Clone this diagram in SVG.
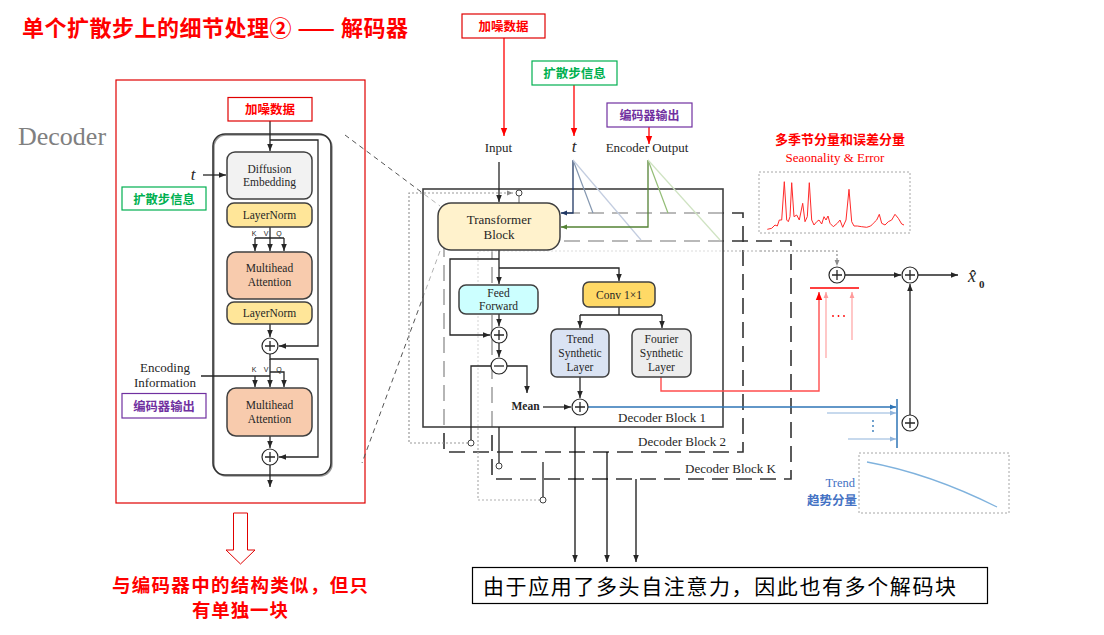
<svg xmlns="http://www.w3.org/2000/svg" width="1104" height="635" viewBox="0 0 1104 635">
  <defs>
    <marker id="ah" viewBox="0 0 10 10" refX="10" refY="5" markerWidth="7" markerHeight="7" markerUnits="userSpaceOnUse" orient="auto"><path d="M0,1 L10,5 L0,9 z" fill="#262626"/></marker>
    <marker id="ahRed" viewBox="0 0 10 10" refX="10" refY="5" markerWidth="8" markerHeight="8" markerUnits="userSpaceOnUse" orient="auto"><path d="M0,1 L10,5 L0,9 z" fill="#ff0000"/></marker>
    <marker id="ahLRed" viewBox="0 0 10 10" refX="10" refY="5" markerWidth="6" markerHeight="6" markerUnits="userSpaceOnUse" orient="auto"><path d="M0,1 L10,5 L0,9 z" fill="#ff9a9a"/></marker>
    <marker id="ahBlue" viewBox="0 0 10 10" refX="10" refY="5" markerWidth="6" markerHeight="6" markerUnits="userSpaceOnUse" orient="auto"><path d="M0,1 L10,5 L0,9 z" fill="#2e75b6"/></marker>
    <marker id="ahLBlue" viewBox="0 0 10 10" refX="10" refY="5" markerWidth="6" markerHeight="6" markerUnits="userSpaceOnUse" orient="auto"><path d="M0,1 L10,5 L0,9 z" fill="#8fb4dc"/></marker>
    <marker id="ahNavy" viewBox="0 0 10 10" refX="10" refY="5" markerWidth="6" markerHeight="6" markerUnits="userSpaceOnUse" orient="auto"><path d="M0,1 L10,5 L0,9 z" fill="#203864"/></marker>
    <marker id="ahGreen" viewBox="0 0 10 10" refX="10" refY="5" markerWidth="6" markerHeight="6" markerUnits="userSpaceOnUse" orient="auto"><path d="M0,1 L10,5 L0,9 z" fill="#548235"/></marker>
    <marker id="ahGray" viewBox="0 0 10 10" refX="10" refY="5" markerWidth="6" markerHeight="6" markerUnits="userSpaceOnUse" orient="auto"><path d="M0,1 L10,5 L0,9 z" fill="#8c8c8c"/></marker>
    <style>
      .ser { font-family: "Liberation Serif", "Times New Roman", serif; fill: #262626; }
      .cjk { font-family: "Noto Sans CJK SC", "Liberation Sans", sans-serif; font-weight: bold; }
      .mid { text-anchor: middle; }
      .box { stroke: #404040; stroke-width: 1.5; }
      .ln { fill: none; stroke: #262626; stroke-width: 1.3; }
      .arr { marker-end: url(#ah); }
      .circ { fill: #fff; stroke: #262626; stroke-width: 1.2; }
      .dash { fill: none; stroke: #333; stroke-width: 1.6; stroke-dasharray: 16 8; }
      .dot { fill: none; stroke-width: 1.2; stroke-dasharray: 2 2; }
      .tag { fill: #fff; stroke-width: 1.2; }
      .kvq { font-family: "Liberation Sans", Arial, sans-serif; font-size: 7px; fill: #262626; text-anchor: middle; }
      .pin { fill: #fff; stroke: #404040; stroke-width: 1; }
    </style>
  </defs>

  <rect width="1104" height="635" fill="#ffffff"/>

  <!-- heading -->
  <text id="title" x="22" y="36" class="cjk" font-size="22" fill="#ff0000" textLength="386">单个扩散步上的细节处理② —— 解码器</text>

  <!-- ===== left panel: single decoder layer ===== -->
  <g id="left-panel">
    <rect x="116" y="80" width="249" height="423" fill="none" stroke="#e00000" stroke-width="1.2"/>
    <text x="18" y="145" font-family="Liberation Serif, serif" font-size="26" fill="#808080">Decoder</text>
  </g>

  <g id="left-decoder-frame">
    <rect x="214" y="135" width="118" height="341" rx="12" fill="none" stroke="#9a9a9a" stroke-width="1.5"/>
    <rect x="213" y="134" width="118" height="341" rx="12" fill="none" stroke="#333" stroke-width="1.6"/>
  </g>

  <g id="left-connectors">
    <path class="ln arr" d="M270,121 V151"/>
    <path class="ln arr" d="M270,140 H318 V346 H279"/>
    <path class="ln arr" d="M203,175 H226"/>
    <path class="ln" d="M270,227 V238 M255,238 H284"/>
    <path class="ln arr" d="M255,238 V251"/>
    <path class="ln arr" d="M270,238 V251"/>
    <path class="ln arr" d="M284,238 V251"/>
    <path class="ln arr" d="M270,324 V337"/>
    <path class="ln arr" d="M270,354 V359 H318 V457 H279"/>
    <path class="ln arr" d="M270,359 V387"/>
    <path class="ln arr" d="M270,372 H284 V387"/>
    <path class="ln" d="M201,376 H270"/>
    <path class="ln arr" d="M255,376 V387"/>
    <path class="ln arr" d="M270,436 V448"/>
    <path class="ln arr" d="M270,465 V487"/>
  </g>

  <g id="left-noisy-tag">
    <rect x="228" y="97.5" width="84" height="23.5" class="tag" stroke="#e00000"/>
    <text x="270" y="114" class="cjk mid" font-size="12.5" fill="#ff0000">加噪数据</text>
  </g>
  <g id="left-diffusion-embedding">
    <rect x="227" y="152" width="85" height="47" rx="8" class="box" fill="#f2f2f2"/>
    <text x="269.5" y="173" class="ser mid" font-size="11.5">Diffusion</text>
    <text x="269.5" y="186" class="ser mid" font-size="11.5">Embedding</text>
  </g>
  <g id="left-t">
    <text x="193" y="180" class="ser mid" font-size="17" font-style="italic">t</text>
  </g>
  <g id="left-step-tag">
    <rect x="122" y="187" width="84" height="23" class="tag" stroke="#00b050"/>
    <text x="164" y="203.5" class="cjk mid" font-size="12.3" fill="#00b050">扩散步信息</text>
  </g>
  <g id="left-layernorm-1">
    <rect x="227" y="203" width="85" height="24" rx="7" class="box" fill="#ffe699"/>
    <text x="269.5" y="219" class="ser mid" font-size="11.5">LayerNorm</text>
  </g>
  <g id="left-kvq-1">
    <text x="254" y="236" class="kvq">K</text>
    <text x="266" y="236" class="kvq">V</text>
    <text x="279" y="236" class="kvq">Q</text>
  </g>
  <g id="left-attention-1">
    <rect x="227" y="252" width="85" height="47" rx="9" class="box" fill="#f8cbad"/>
    <text x="269.5" y="271.5" class="ser mid" font-size="11.5">Multihead</text>
    <text x="269.5" y="285.5" class="ser mid" font-size="11.5">Attention</text>
  </g>
  <g id="left-layernorm-2">
    <rect x="227" y="302" width="85" height="22" rx="7" class="box" fill="#ffe699"/>
    <text x="269.5" y="317" class="ser mid" font-size="11.5">LayerNorm</text>
  </g>
  <g id="left-add-1">
    <circle cx="270" cy="346" r="8" class="circ"/>
    <path class="ln" d="M265,346 H275 M270,341 V351"/>
  </g>
  <g id="left-encoding-info">
    <text x="165" y="372" class="ser mid" font-size="13">Encoding</text>
    <text x="165" y="387" class="ser mid" font-size="13">Information</text>
  </g>
  <g id="left-kvq-2">
    <text x="254" y="371.5" class="kvq">K</text>
    <text x="266" y="371.5" class="kvq">V</text>
    <text x="279" y="371.5" class="kvq">Q</text>
  </g>
  <g id="left-encoder-tag">
    <rect x="122" y="393.5" width="84" height="24.5" class="tag" stroke="#7030a0"/>
    <text x="164" y="410.5" class="cjk mid" font-size="12.3" fill="#7030a0">编码器输出</text>
  </g>
  <g id="left-attention-2">
    <rect x="227" y="388" width="85" height="48" rx="9" class="box" fill="#f8cbad"/>
    <text x="269.5" y="409" class="ser mid" font-size="11.5">Multihead</text>
    <text x="269.5" y="423" class="ser mid" font-size="11.5">Attention</text>
  </g>
  <g id="left-add-2">
    <circle cx="270" cy="457" r="8" class="circ"/>
    <path class="ln" d="M265,457 H275 M270,452 V462"/>
  </g>

  <!-- hollow arrow and note under the left panel -->
  <g id="left-note">
    <polygon points="233.5,513 247.5,513 247.5,550 255,550 240.5,564 226,550 233.5,550" fill="#fff" stroke="#e00000" stroke-width="1"/>
    <text x="112" y="592" class="cjk" font-size="18.5" fill="#ff0000" textLength="256">与编码器中的结构类似，但只</text>
    <text x="240" y="617" class="cjk mid" font-size="18.5" fill="#ff0000" textLength="96">有单独一块</text>
  </g>

  <!-- zoom guide lines from the left panel -->
  <g id="guide-lines" fill="none" stroke="#555" stroke-width="1" stroke-dasharray="5 4">
    <path d="M345,135 L440,206"/>
    <path d="M440,251 L362,463"/>
  </g>

  <!-- ===== stacked decoder blocks ===== -->
  <g id="decoder-block-k">
    <rect x="492" y="241" width="299" height="238" class="dash"/>
    <text x="685" y="473" class="ser" font-size="13">Decoder Block K</text>
  </g>
  <g id="decoder-block-2">
    <rect x="444" y="213" width="299" height="239" class="dash"/>
    <text x="638" y="446" class="ser" font-size="13">Decoder Block 2</text>
  </g>

  <g id="skip-paths">
    <!-- light dotted skip into the seasonal sum -->
    <path class="dot" stroke="#b0b0b0" d="M540,500 H478 V251 H760"/>
    <path class="dot" stroke="#8c8c8c" d="M760,251 H837 V266" marker-end="url(#ahGray)"/>
  </g>

  <g id="decoder-block-1">
    <rect x="423" y="189" width="300" height="238" fill="#ffffff" fill-opacity="0.55" stroke="#404040" stroke-width="1.6"/>
    <text x="618" y="421.5" class="ser" font-size="13">Decoder Block 1</text>
  </g>

  <g id="connectors">
    <!-- inputs from the top -->
    <path class="ln arr" d="M499,162 V202"/>
    <path fill="none" stroke="#203864" stroke-width="1.3" d="M573,160 V213 H561" marker-end="url(#ahNavy)"/>
    <path fill="none" stroke="#8497b0" stroke-width="1.2" d="M573,160 L593,213"/>
    <path fill="none" stroke="#c3cde0" stroke-width="1.2" d="M573,160 L641,240"/>
    <path fill="none" stroke="#548235" stroke-width="1.3" d="M648,160 V227 H561" marker-end="url(#ahGreen)"/>
    <path fill="none" stroke="#93bd76" stroke-width="1.2" d="M648,160 L668,213"/>
    <path fill="none" stroke="#cfe3c2" stroke-width="1.2" d="M648,160 L720,240"/>

    <!-- dotted hand-over into the next block -->
    <path class="dot" stroke="#999" d="M468,443 H409 V193 H513" marker-end="url(#ahGray)"/>
    <path fill="none" stroke="#666" stroke-width="1" d="M519,196 V203"/>
    <circle cx="519" cy="193" r="3" class="pin"/>

    <!-- inside block 1 -->
    <path class="ln arr" d="M499,250 V284"/>
    <path class="ln arr" d="M499,259 H450 V335 H490"/>
    <path class="ln arr" d="M499,268 H619 V281"/>
    <path class="ln arr" d="M499,314 V326"/>
    <path class="ln arr" d="M499,343 V357"/>
    <path class="ln arr" d="M507,366 H527 V393"/>
    <path class="ln" d="M491,366 H471 V440"/>
    <circle cx="471" cy="443" r="3" class="pin"/>
    <path class="ln" d="M499,427 V463"/>
    <circle cx="499" cy="466" r="3" class="pin"/>
    <path class="ln" d="M543,462 V497"/>
    <circle cx="543" cy="500" r="3" class="pin"/>
    <path class="ln arr" d="M543,407 H571"/>
    <path class="ln" d="M619,307 V315 M580,315 H662"/>
    <path class="ln arr" d="M580,315 V328"/>
    <path class="ln arr" d="M662,315 V328"/>
    <path class="ln arr" d="M580,377 V398"/>

    <!-- trend branch -->
    <path fill="none" stroke="#2e75b6" stroke-width="1.3" d="M588,407 H896" marker-end="url(#ahBlue)"/>
    <path fill="none" stroke="#8fb4dc" stroke-width="1.1" d="M827,413 H896" marker-end="url(#ahLBlue)"/>
    <path fill="none" stroke="#8fb4dc" stroke-width="1.1" d="M848,439 H896" marker-end="url(#ahLBlue)"/>
    <path fill="none" stroke="#2e75b6" stroke-width="1.5" d="M897,399 V448"/>
    <circle cx="873" cy="421" r="0.9" fill="#2e75b6"/>
    <circle cx="873" cy="426" r="0.9" fill="#2e75b6"/>
    <circle cx="873" cy="431" r="0.9" fill="#2e75b6"/>

    <!-- seasonal branch -->
    <path fill="none" stroke="#ff4d4d" stroke-width="1.4" d="M661,377 V391 H819 V292" marker-end="url(#ahRed)"/>
    <path fill="none" stroke="#ff9a9a" stroke-width="1.1" d="M826,358 V292" marker-end="url(#ahLRed)"/>
    <path fill="none" stroke="#ff9a9a" stroke-width="1.1" d="M852,340 V292" marker-end="url(#ahLRed)"/>
    <path fill="none" stroke="#ff0000" stroke-width="1.4" d="M810,288 H859"/>
    <circle cx="833" cy="316" r="0.9" fill="#ff0000"/>
    <circle cx="838.5" cy="316" r="0.9" fill="#ff0000"/>
    <circle cx="844" cy="316" r="0.9" fill="#ff0000"/>

    <!-- output sums -->
    <path class="ln arr" d="M845,275 H901"/>
    <path class="ln arr" d="M918,275 H958"/>
    <path class="ln arr" d="M910,415 V284"/>

    <!-- block outputs to the note -->
    <path fill="none" stroke="#000" stroke-width="1.2" d="M575,427 V562" marker-end="url(#ah)"/>
    <path fill="none" stroke="#000" stroke-width="1.2" d="M607,452 V562" marker-end="url(#ah)"/>
    <path fill="none" stroke="#000" stroke-width="1.2" d="M636,479 V562" marker-end="url(#ah)"/>

    <!-- annotation arrows -->
    <path fill="none" stroke="#ff0000" stroke-width="1.3" d="M504,38 V136" marker-end="url(#ahRed)"/>
    <path fill="none" stroke="#ff0000" stroke-width="1.3" d="M574,85 V136" marker-end="url(#ahRed)"/>
    <path fill="none" stroke="#ff0000" stroke-width="1.3" d="M649,127 V144" marker-end="url(#ahRed)"/>
  </g>

  <!-- ===== nodes of the main diagram ===== -->
  <g id="noisy-tag">
    <rect x="462" y="14" width="83" height="24" class="tag" stroke="#e00000"/>
    <text x="503.5" y="31" class="cjk mid" font-size="12.5" fill="#ff0000">加噪数据</text>
  </g>
  <g id="step-tag">
    <rect x="532" y="61" width="85" height="24" class="tag" stroke="#00b050"/>
    <text x="574.5" y="78" class="cjk mid" font-size="12.5" fill="#00b050">扩散步信息</text>
  </g>
  <g id="encoder-tag">
    <rect x="607" y="103" width="85" height="24" class="tag" stroke="#7030a0"/>
    <text x="649.5" y="120" class="cjk mid" font-size="12" fill="#7030a0">编码器输出</text>
  </g>
  <g id="input-label"><text x="498.5" y="152" class="ser mid" font-size="13">Input</text></g>
  <g id="t-label"><text x="574" y="152" class="ser mid" font-size="17" font-style="italic">t</text></g>
  <g id="encoder-output-label"><text x="647" y="152" class="ser mid" font-size="13">Encoder Output</text></g>

  <g id="transformer-block">
    <rect x="438" y="203" width="122" height="47" rx="13" class="box" fill="#fff2cc"/>
    <text x="499" y="224" class="ser mid" font-size="13">Transformer</text>
    <text x="499" y="239" class="ser mid" font-size="13">Block</text>
  </g>
  <g id="feed-forward">
    <rect x="459" y="285" width="79" height="29" rx="7" class="box" fill="#ccffff"/>
    <text x="498.5" y="297" class="ser mid" font-size="11.5">Feed</text>
    <text x="498.5" y="310" class="ser mid" font-size="11.5">Forward</text>
  </g>
  <g id="add-ff">
    <circle cx="499" cy="335" r="8" class="circ"/>
    <path class="ln" d="M494,335 H504 M499,330 V340"/>
  </g>
  <g id="minus">
    <circle cx="499" cy="366" r="8" class="circ"/>
    <path class="ln" d="M494,366 H504"/>
  </g>
  <g id="mean-label">
    <text x="525.5" y="410" class="ser mid" font-size="11.5" font-weight="bold">Mean</text>
  </g>
  <g id="conv">
    <rect x="583" y="282" width="72" height="25" rx="6" class="box" fill="#ffd966"/>
    <text x="619" y="299" class="ser mid" font-size="11.5">Conv 1×1</text>
  </g>
  <g id="trend-layer">
    <rect x="551" y="329" width="58" height="48" rx="6" class="box" fill="#dae3f3"/>
    <text x="580" y="343" class="ser mid" font-size="11.5">Trend</text>
    <text x="580" y="357" class="ser mid" font-size="11.5">Synthetic</text>
    <text x="580" y="371" class="ser mid" font-size="11.5">Layer</text>
  </g>
  <g id="fourier-layer">
    <rect x="632" y="329" width="59" height="48" rx="6" class="box" fill="#ededed"/>
    <text x="661.5" y="343" class="ser mid" font-size="11.5">Fourier</text>
    <text x="661.5" y="357" class="ser mid" font-size="11.5">Synthetic</text>
    <text x="661.5" y="371" class="ser mid" font-size="11.5">Layer</text>
  </g>
  <g id="add-trend">
    <circle cx="580" cy="407" r="8" class="circ"/>
    <path class="ln" d="M575,407 H585 M580,402 V412"/>
  </g>

  <g id="seasonal-chart">
    <text x="840" y="144" class="cjk mid" font-size="13" fill="#ff0000">多季节分量和误差分量</text>
    <text x="835" y="161.5" class="mid" font-family="Liberation Serif, serif" font-size="13" fill="#ff0000">Seaonality &amp; Error</text>
    <rect x="759" y="172" width="151" height="61" fill="none" stroke="#a6a6a6" stroke-width="1" stroke-dasharray="2 2"/>
    <polyline fill="none" stroke="#ff2a2a" stroke-width="1" points="767.3,229.3 771.7,228.3 775,225 777.3,226 779.3,220 781.7,220 784.3,181.7 786.7,220 788.3,221.7 790,216.7 791.7,182.7 794,216.7 796.7,215 799.3,220 802.7,203.3 805,221.7 807.3,216.7 809.3,182.7 811.7,220 814,225 816.7,221.7 819,220 821.7,224 824,216.7 826,220 828,216 830,223.3 833.3,226.7 837.3,223.3 840,220 842.7,227.3 846,220 849,189.3 851.7,221.7 854,226 857.3,226 861.7,226.7 866.7,227.3 870.7,226 873.3,223.3 876.7,220 879.3,214.3 881.7,223.3 885,225 888.3,221.7 891.7,220 895,214.3 898.3,218.3 901.7,224 904,225"/>
  </g>

  <g id="sum-seasonal">
    <circle cx="837" cy="275" r="8" class="circ"/>
    <path class="ln" d="M832,275 H842 M837,270 V280"/>
  </g>
  <g id="sum-output">
    <circle cx="910" cy="275" r="8" class="circ"/>
    <path class="ln" d="M905,275 H915 M910,270 V280"/>
  </g>
  <g id="sum-trend">
    <circle cx="910" cy="423" r="8" class="circ"/>
    <path class="ln" d="M905,423 H915 M910,418 V428"/>
  </g>
  <g id="output-label">
    <text x="968" y="282" font-family="Liberation Serif, serif" font-size="18" font-style="italic" fill="#262626">x</text>
    <text x="973" y="283" text-anchor="middle" font-family="Liberation Serif, serif" font-size="18" fill="#262626">ˆ</text>
    <text x="979" y="288" font-family="Liberation Serif, serif" font-size="11" font-weight="bold" fill="#262626">0</text>
  </g>

  <g id="trend-chart">
    <rect x="859" y="453" width="150" height="60" fill="none" stroke="#a6a6a6" stroke-width="1" stroke-dasharray="2 2"/>
    <path d="M867,462 Q930,473.5 997,507" fill="none" stroke="#7fb2dd" stroke-width="1.3"/>
    <text x="855" y="487" text-anchor="end" font-family="Liberation Serif, serif" font-size="12.5" fill="#4472c4">Trend</text>
    <text x="857" y="505" text-anchor="end" class="cjk" font-size="12.5" fill="#4472c4">趋势分量</text>
  </g>

  <g id="bottom-note">
    <rect x="472.5" y="567.5" width="515" height="36" fill="#fff" stroke="#000" stroke-width="1.2"/>
    <text x="483" y="594" font-family="Noto Sans CJK SC, Liberation Sans, sans-serif" font-size="21" fill="#000" textLength="473">由于应用了多头自注意力，因此也有多个解码块</text>
  </g>
</svg>
